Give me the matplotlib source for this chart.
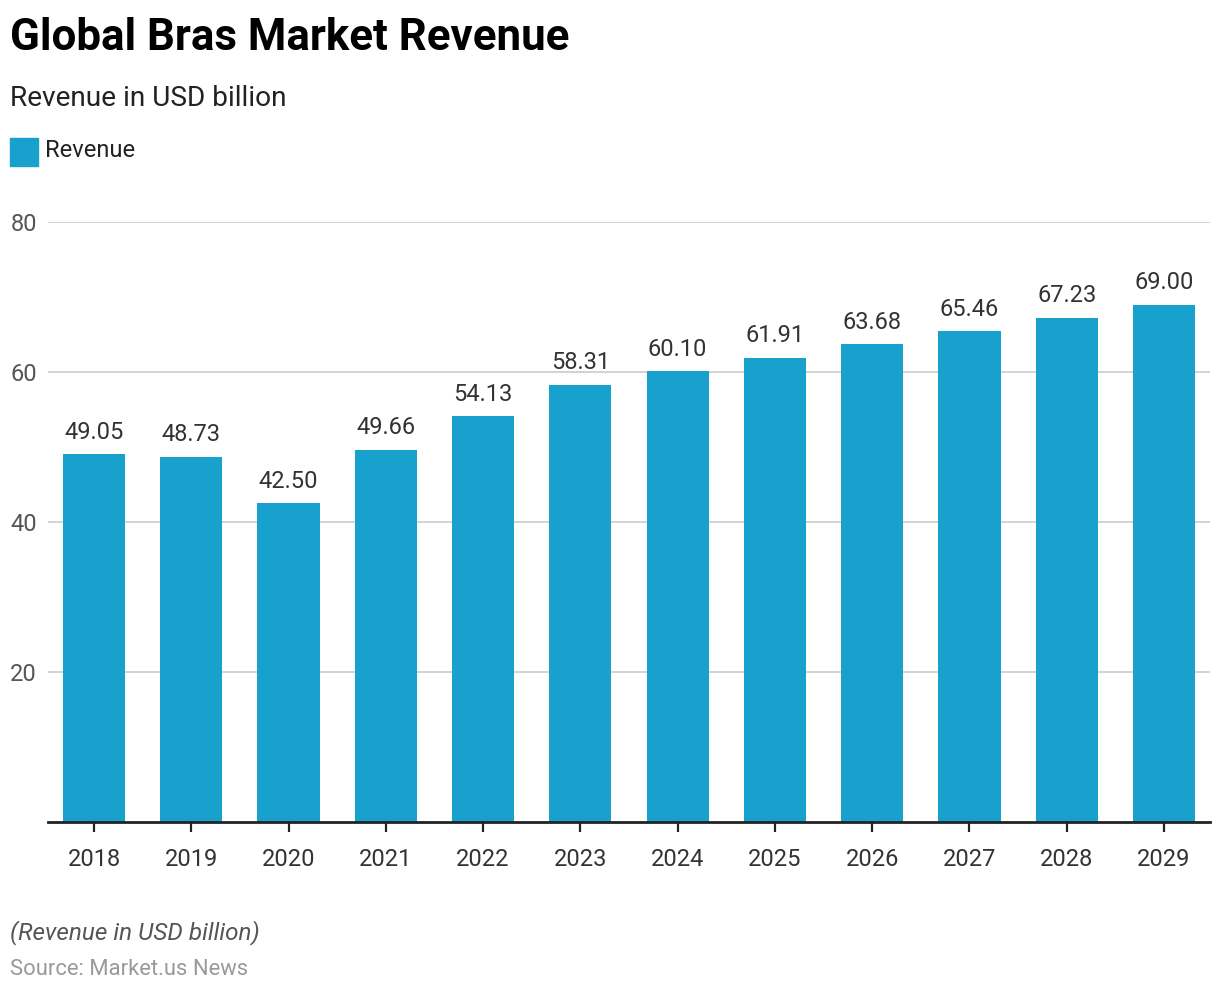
import matplotlib.pyplot as plt
from matplotlib.patches import Rectangle

# 数据
years = ['2018', '2019', '2020', '2021', '2022', '2023', '2024', '2025', '2026', '2027', '2028', '2029']
revenue = [49.05, 48.73, 42.50, 49.66, 54.13, 58.31, 60.10, 61.91, 63.68, 65.46, 67.23, 69.00]

bar_color = '#18A1CD'
plt.rcParams['font.family'] = ['Roboto', 'DejaVu Sans']

W, H = 1220, 994
fig = plt.figure(figsize=(W / 100, H / 100), dpi=100)
ax = fig.add_axes([48 / W, 1 - 822 / H, (1210 - 48) / W, (822 - 222) / H])

x = list(range(len(years)))
bars = ax.bar(x, revenue, width=0.64, color=bar_color, zorder=2)

# 柱顶数值
for xi, v in zip(x, revenue):
    ax.annotate(f'{v:.2f}', (xi, v), xytext=(0, 11), textcoords='offset points',
                ha='center', va='baseline', fontsize=17, color='#333333')

ax.set_xlim(-0.473, len(years) - 1 + 0.473)
ax.set_ylim(0, 80)
ax.set_yticks([20, 40, 60, 80])
ax.set_xticks(x)
ax.set_xticklabels(years)

ax.grid(axis='y', color='#d0d0d0', linewidth=1.3, zorder=0)
for s in ['top', 'right', 'left']:
    ax.spines[s].set_visible(False)
ax.spines['bottom'].set_color('#222222')
ax.spines['bottom'].set_linewidth(2)
ax.spines['bottom'].set_zorder(3)

ax.tick_params(axis='y', length=0, pad=8, labelsize=17, labelcolor='#555555')
ax.tick_params(axis='x', length=7, width=1.6, color='#222222', pad=11.5,
               labelsize=17, labelcolor='#333333')

# 标题、副标题
fig.text(10 / W, 1 - 50 / H, 'Global Bras Market Revenue', fontsize=31.6,
         fontweight='bold', color='black', va='baseline')
fig.text(10 / W, 1 - 106 / H, 'Revenue in USD billion', fontsize=20.2,
         color='#222222', va='baseline')

# 图例
fig.patches.append(Rectangle((10 / W, 1 - 166 / H), 28 / W, 28 / H,
                             transform=fig.transFigure, color=bar_color))
fig.text(45 / W, 1 - 157 / H, 'Revenue', fontsize=17, color='#222222', va='baseline')

# 脚注
fig.text(10 / W, 1 - 939 / H, '(Revenue in USD billion)', fontsize=17.5,
         style='italic', color='#555555', va='baseline')
fig.text(10 / W, 1 - 975 / H, 'Source: Market.us News', fontsize=15.8,
         color='#999999', va='baseline')

plt.savefig('out.png', dpi=100)
